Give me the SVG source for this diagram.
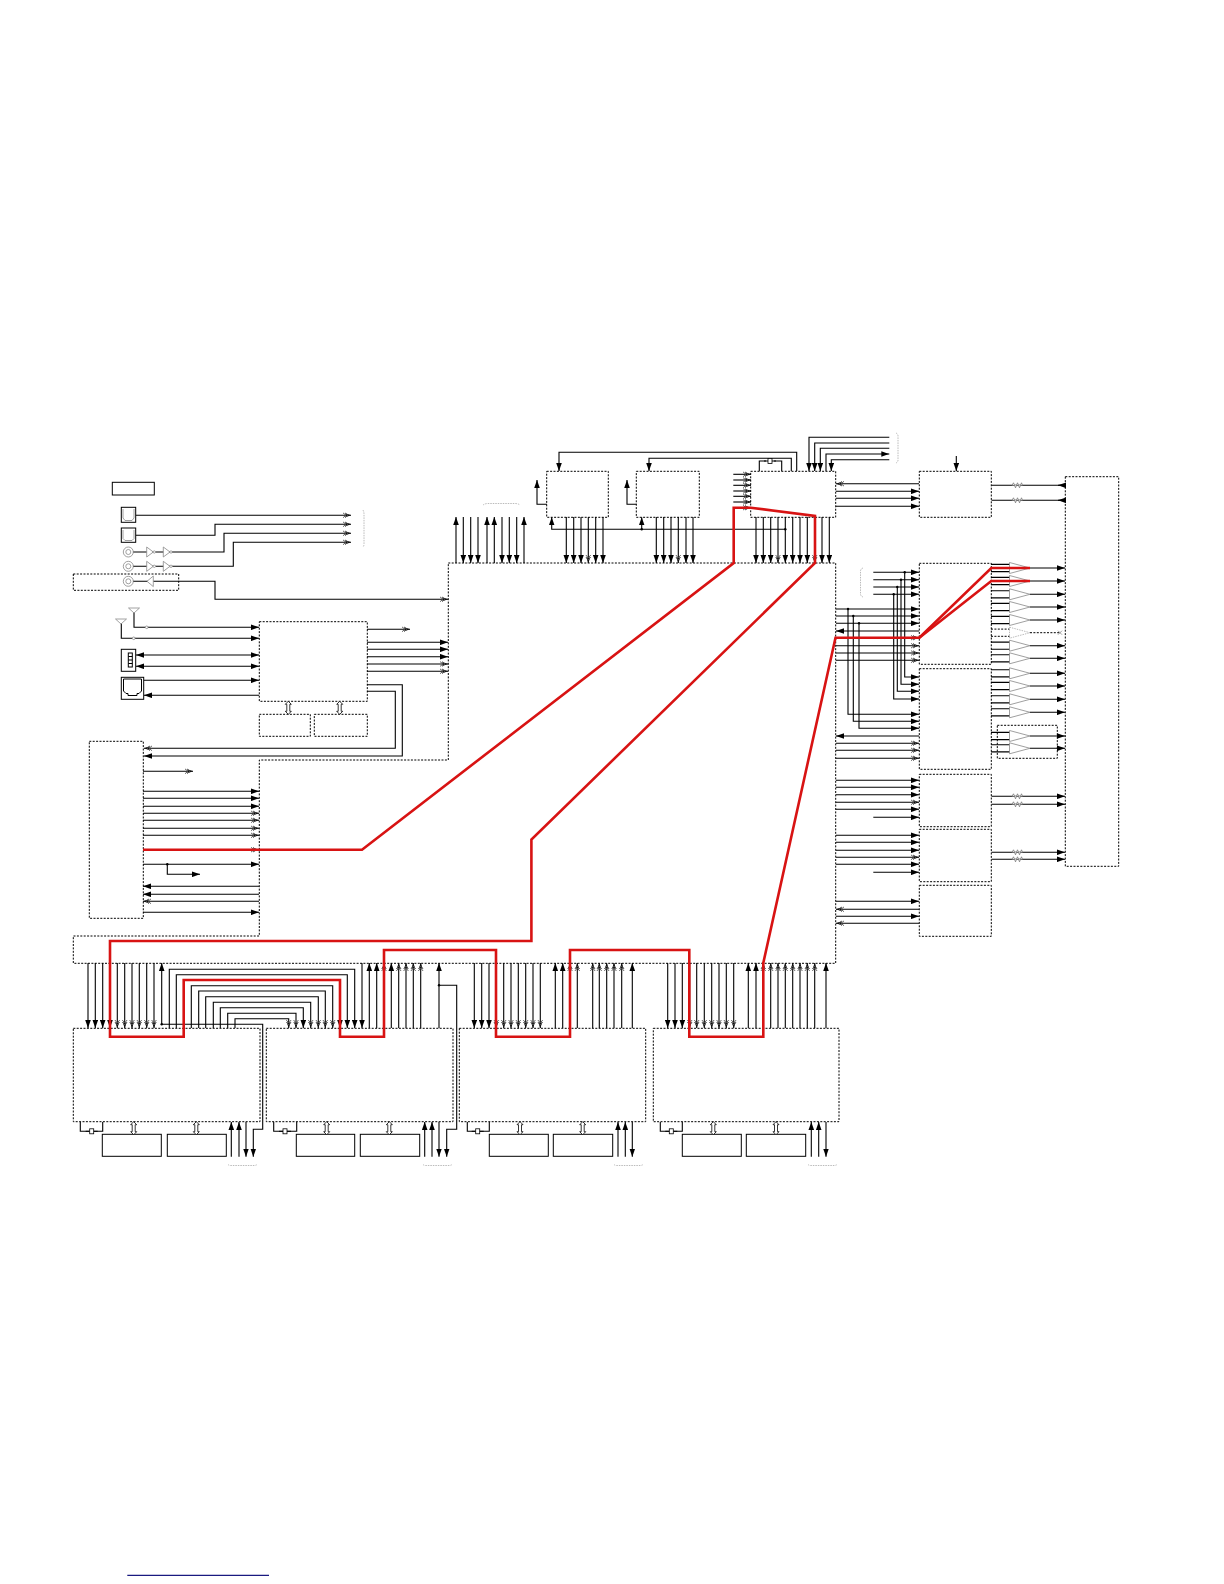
<svg xmlns="http://www.w3.org/2000/svg" width="1224" height="1584" viewBox="0 0 1224 1584">
<style>
.n{stroke:#000;stroke-width:1;stroke-dasharray:2 1.4;fill:#fff}
.s{stroke:#000;stroke-width:1;fill:none}
.g{stroke:#8a8a8a;stroke-width:.8;fill:#fff}
.d{stroke:#aaa;stroke-width:.8;stroke-dasharray:1.5 1;fill:none}
.i{stroke:#888;stroke-width:.8;fill:none}
#conn path{stroke:#000;stroke-width:1.1;fill:none}
#conn path.a{marker-end:url(#a)}
#conn path.x{marker-end:url(#x)}
#conn path.b{marker-start:url(#a);marker-end:url(#a)}
.dot{fill:#000;stroke:none}
.red{stroke:#d81313;stroke-width:2.6;fill:none;stroke-linejoin:miter}
</style>
<defs>
<marker id="a" markerUnits="userSpaceOnUse" viewBox="0 0 8 6" refX="8" refY="3" markerWidth="8" markerHeight="6" orient="auto-start-reverse"><path d="M0,.2L8,3L0,5.8Z" fill="#000" stroke="none"/></marker>
<marker id="x" markerUnits="userSpaceOnUse" viewBox="0 0 8 6" refX="8" refY="3" markerWidth="8" markerHeight="6" orient="auto-start-reverse"><path d="M2.5,1L8,3L2.5,5Z" fill="#111" stroke="none"/><path d="M0,.6L3,3L0,5.4M2,.6L5,3L2,5.4" fill="none" stroke="#555" stroke-width=".9"/></marker>
<g id="amp"><path d="M991,-3.6H1010M991,3.6H1010M1030,0H1065" fill="none" stroke="#000" stroke-width="1.1" marker-end="url(#a)"/><path d="M1009.5,-5.5L1030,0L1009.5,5.5Z" fill="#fff" fill-opacity=".85" stroke="#888" stroke-width=".8"/></g>
<path id="bus" d="M0,0L3,3H1.5V10H3L0,13L-3,10H-1.5V3H-3Z" fill="#fff" stroke="#000" stroke-width=".8"/>
<g id="coax"><circle r="5" fill="none" stroke="#888" stroke-width=".8"/><circle r="2.5" fill="none" stroke="#888" stroke-width=".8"/></g>
<g id="buf"><path d="M146.7,-5L153.3,0L146.7,5Z" fill="#fff" stroke="#888" stroke-width=".8"/><circle cx="154.3" r="1.2" fill="#fff" stroke="#888" stroke-width=".7"/><path d="M163.3,-5L170,0L163.3,5Z" fill="#fff" stroke="#888" stroke-width=".8"/><circle cx="171" r="1.2" fill="#fff" stroke="#888" stroke-width=".7"/></g>
<g id="xtal"><path d="M-6,0H-2M2,0H6" stroke="#000" fill="none"/><rect x="-2" y="-2.5" width="4" height="5" fill="#fff" stroke="#000" stroke-width=".8"/></g>
<path id="res" d="M-5,0L-3.5,-2.5L-1.5,2.5L.5,-2.5L2.5,2.5L4.5,-2.5L5.5,0" fill="#fff" stroke="#777" stroke-width=".8"/>
</defs>

<g id="main"><path class="n" d="M448.3,563H835.7V963.3H73.3V936H259.3V760H448.3Z"/></g>
<g id="label-box"><rect class="s" x="112.3" y="482.3" width="42" height="12.7"/></g>
<g id="sig-conn-1"><rect class="s" x="121.3" y="507.3" width="14.4" height="15"/><path class="i" d="M123,509V518L125,520.5H132L134,518V509"/></g>
<g id="sig-conn-2"><rect class="s" x="121.3" y="528" width="14.4" height="14.3"/><path class="i" d="M123,530V538.5L125,540.5H132L134,538.5V530"/></g>
<g id="out-box"><rect class="n" x="73.3" y="574" width="105.4" height="16.3"/></g>
<g id="usb-conn"><rect class="s" x="121.3" y="649.3" width="14.4" height="22"/><rect class="s" x="128.3" y="653" width="4" height="14"/><path class="s" d="M128.3,656.5H132.3M128.3,660H132.3M128.3,663.5H132.3"/></g>
<g id="rj-conn"><rect class="s" x="121.3" y="677.3" width="22.4" height="22"/><path class="s" d="M123.5,679V691L126,693.5H128V695.5H137V693.5H139L141.5,691V679Z"/></g>
<g id="tuner"><rect class="n" x="259.3" y="621.7" width="108" height="79.6"/></g>
<g id="mem-a1"><rect class="n" x="259.3" y="714.3" width="51" height="22"/></g>
<g id="mem-a2"><rect class="n" x="314.3" y="714.3" width="53" height="22"/></g>
<g id="left-box"><rect class="n" x="89.3" y="741.3" width="54" height="177"/></g>
<g id="top1"><rect class="n" x="546.7" y="471.3" width="61.6" height="46"/></g>
<g id="top2"><rect class="n" x="636.3" y="471.3" width="63" height="46"/></g>
<g id="top3"><rect class="n" x="750.7" y="471.3" width="85" height="46"/></g>
<g id="r-b"><rect class="n" x="919.3" y="471.3" width="72" height="46"/></g>
<g id="r-d"><rect class="n" x="919.3" y="563.3" width="72" height="101"/></g>
<g id="r-e"><rect class="n" x="919.3" y="668.7" width="72" height="100.6"/></g>
<g id="r-f"><rect class="n" x="919.3" y="774.3" width="72" height="52.4"/></g>
<g id="r-g"><rect class="n" x="919.3" y="829.3" width="72" height="52.4"/></g>
<g id="r-h"><rect class="n" x="919.3" y="885.3" width="72" height="51"/></g>
<g id="r-c"><rect class="n" x="1065.3" y="476.7" width="53.4" height="389.6"/></g>
<g id="amp-box"><rect class="n" x="997.3" y="725.3" width="60" height="33"/></g>
<g id="m1"><rect class="n" x="73.3" y="1028.3" width="186.7" height="93.4"/></g>
<g id="m2"><rect class="n" x="266.3" y="1028.3" width="186.7" height="93.4"/></g>
<g id="m3"><rect class="n" x="459.3" y="1028.3" width="186.4" height="93.4"/></g>
<g id="m4"><rect class="n" x="653.3" y="1028.3" width="185.7" height="93.4"/></g>
<g id="mem-m">
<rect class="s" x="102.3" y="1134.3" width="59" height="22"/><rect class="s" x="167.3" y="1134.3" width="59" height="22"/>
<rect class="s" x="296.3" y="1134.3" width="58.4" height="22"/><rect class="s" x="360.3" y="1134.3" width="59.4" height="22"/>
<rect class="s" x="489.3" y="1134.3" width="59" height="22"/><rect class="s" x="553.3" y="1134.3" width="59.4" height="22"/>
<rect class="s" x="682.3" y="1134.3" width="59" height="22"/><rect class="s" x="746.3" y="1134.3" width="59.4" height="22"/>
</g>

<g id="conn">
<path class="x" d="M136,515.3H351"/><path class="x" d="M136,535.3H215V524.3H351"/><path class="x" d="M133,552H224V533.3H351"/><path class="x" d="M133,566.3H233.3V542.3H351"/>
<path class="x" d="M133,581.3H215V599.3H448"/>
<path class="a" d="M134,612V627.3H259"/><path class="a" d="M121.3,623V638.3H259"/>
<path class="b" d="M136,655H259"/><path class="b" d="M136,666.3H259"/>
<path class="a" d="M144,680.3H259"/><path class="a" d="M259,695.3H144"/>
<path class="x" d="M367,629.3H410"/><path class="a" d="M367,642.3H448"/><path class="a" d="M367,649.3H448"/><path class="a" d="M367,656.7H448"/><path class="x" d="M367,664H448"/><path class="x" d="M367,671.3H448"/>
<path class="a" d="M367,684.7H402.3V756H144"/><path class="x" d="M367,691.3H395.3V748.3H144"/>
<path class="x" d="M143,771.3H193"/>
<path class="a" d="M143,791.3H259"/><path class="a" d="M143,798.3H259"/><path class="a" d="M143,806.3H259"/><path class="x" d="M143,813.3H259"/><path class="x" d="M143,820.3H259"/><path class="x" d="M143,828.3H259"/><path class="x" d="M143,835.3H259"/><path class="x" d="M143,849.7H259"/>
<path class="a" d="M143,864.3H259"/><path class="a" d="M167.3,864.3V874.3H200"/>
<path class="a" d="M259,886.3H143"/><path class="a" d="M259,894.3H143"/><path class="x" d="M259,901.3H143"/><path class="a" d="M143,912.3H259"/>
<path class="a" d="M456,563V517"/><path class="a" d="M463.3,517V563"/><path class="a" d="M470.7,517V563"/><path class="a" d="M478,517V563"/><path class="a" d="M487,563V517"/><path class="a" d="M494.3,563V517"/><path class="a" d="M502,517V563"/><path class="a" d="M509.3,517V563"/><path class="a" d="M516.7,517V563"/><path class="a" d="M524,563V517"/>
<path class="a" d="M566.3,517V563"/><path class="a" d="M573.7,517V563"/><path class="a" d="M581,517V563"/><path class="x" d="M588.3,517V563"/><path class="a" d="M595.7,517V563"/><path class="a" d="M603,517V563"/>
<path class="a" d="M656.3,517V563"/><path class="a" d="M663.7,517V563"/><path class="a" d="M671,517V563"/><path class="x" d="M678.3,517V563"/><path class="a" d="M686,517V563"/><path class="a" d="M693,517V563"/>
<path class="a" d="M756,517V563"/><path class="a" d="M763.3,517V563"/><path class="a" d="M770.7,517V563"/><path class="x" d="M778,517V563"/><path class="a" d="M785.3,517V563"/><path class="a" d="M792.7,517V563"/><path class="a" d="M800,517V563"/><path class="a" d="M807.3,517V563"/><path class="x" d="M814.7,517V563"/><path class="a" d="M822,517V563"/><path class="a" d="M829.3,517V563"/>
<path class="a" d="M785.3,529.3H551.7V517.3"/><path class="a" d="M641.7,529.3V517.3"/>
<path class="a" d="M796.7,471V452.3H559V471"/><path class="a" d="M791.3,471V458.3H649V471"/>
<path d="M759.3,471V461H766M774,461H781.7V471"/>
<path class="a" d="M547,504.3H537V480"/><path class="a" d="M636.5,504.3H627V480"/>
<path class="x" d="M733.3,474.3H751"/><path class="x" d="M733.3,480H751"/><path class="x" d="M733.3,485.3H751"/><path class="x" d="M733.3,491H751"/><path class="x" d="M733.3,496.3H751"/><path class="x" d="M733.3,502H751"/><path class="x" d="M733.3,507.7H751"/>
<path class="a" d="M889.3,437.3H809V471"/><path class="a" d="M889.3,443H814.7V471"/><path class="a" d="M889.3,448.3H820.3V471"/><path class="a" d="M826,471V454H889.3"/><path class="a" d="M889.3,459.7H831.3V471"/>
<path class="a" d="M956.3,456V471"/><path class="x" d="M919,483.7H836"/><path class="a" d="M836,491.3H919"/><path class="a" d="M836,498.3H919"/><path class="a" d="M836,506.3H919"/>
<path d="M991.5,485.3H1065"/><path d="M991.5,500.3H1065"/><path class="a" d="M1065,485.3H1058"/><path class="a" d="M1065,500.3H1058"/>
<path class="a" d="M873.3,572.3H919"/><path class="a" d="M873.3,579.7H919"/><path class="a" d="M873.3,587H919"/><path class="a" d="M873.3,594.3H919"/>
<path class="a" d="M904.7,572.3V677H919"/><path class="a" d="M901,579.7V684.3H919"/><path class="a" d="M897.3,587V691.3H919"/><path class="a" d="M893.7,594.3V699H919"/>
<path class="a" d="M836,609H919"/><path class="a" d="M836,616H919"/><path class="a" d="M836,623.3H919"/>
<path class="a" d="M848,609V714.3H919"/><path class="a" d="M853.3,616V721.3H919"/><path class="a" d="M859,623.3V728.3H919"/>
<path class="a" d="M919,631H836"/><path class="x" d="M836,637.7H919"/><path class="x" d="M836,645.7H919"/><path class="x" d="M836,653H919"/><path class="x" d="M836,660.3H919"/>
<path class="a" d="M919,736H836"/><path class="x" d="M836,743.3H919"/><path class="x" d="M836,750.3H919"/><path class="x" d="M836,758.3H919"/>
<path class="a" d="M836,780.3H919"/><path class="a" d="M836,787.3H919"/><path class="a" d="M836,794.7H919"/><path class="x" d="M836,802.3H919"/><path class="a" d="M836,809.3H919"/><path class="a" d="M873.3,817.3H919"/>
<path class="a" d="M836,835.3H919"/><path class="a" d="M836,842.3H919"/><path class="a" d="M836,850.3H919"/><path class="x" d="M836,857.3H919"/><path class="a" d="M836,864.3H919"/><path class="a" d="M873.3,872.3H919"/>
<path class="a" d="M836,901.3H919"/><path class="x" d="M919,909.3H836"/><path class="a" d="M836,916.3H919"/><path class="x" d="M919,923.3H836"/>
<path class="a" d="M991.5,796.3H1065"/><path class="a" d="M991.5,804.3H1065"/><path class="a" d="M991.5,852.3H1065"/><path class="a" d="M991.5,859.3H1065"/>
<path class="a" d="M88,963V1028"/><path class="a" d="M95.3,963V1028"/><path class="a" d="M102.7,963V1028"/><path class="a" d="M110,963V1028"/><path class="x" d="M117.3,963V1028"/><path class="x" d="M124.7,963V1028"/><path class="x" d="M132,963V1028"/><path class="x" d="M139.3,963V1028"/><path class="x" d="M146.7,963V1028"/><path class="x" d="M154,963V1028"/>
<path class="a" d="M161.7,1024.3V963"/><path class="a" d="M161.7,1024.3H262.7V1129.3H253.3V1156.7"/>
<path class="a" d="M169.3,1028V969.3H354.7V1028"/><path class="a" d="M176.3,1028V974.7H347.3V1028"/><path class="a" d="M183.7,1028V980H340V1028"/><path class="x" d="M191.3,1028V985.7H332.7V1028"/><path class="x" d="M198.7,1028V991H325.3V1028"/><path class="x" d="M205.7,1028V996.7H318.3V1028"/><path class="x" d="M213.3,1028V1002.3H310.7V1028"/><path class="a" d="M220.3,1028V1007.7H303.3V1028"/><path class="x" d="M227.7,1028V1013.3H296V1028"/><path class="x" d="M235,1028V1018.7H288.7V1028"/>
<path class="a" d="M362,963V1028"/>
<path class="a" d="M369.3,1028V963"/><path class="a" d="M376.7,1028V963"/><path class="x" d="M384,1028V963"/><path class="a" d="M391.3,1028V963"/><path class="x" d="M398.7,1028V963"/><path class="x" d="M406,1028V963"/><path class="x" d="M413.3,1028V963"/><path class="x" d="M420.7,1028V963"/><path class="a" d="M439,1028V963"/>
<path class="a" d="M439,985.3H456.7V1129.3H446.7V1156.7"/>
<path class="a" d="M474.3,963V1028"/><path class="a" d="M481.7,963V1028"/><path class="a" d="M489,963V1028"/><path class="x" d="M496.3,963V1028"/><path class="x" d="M503.7,963V1028"/><path class="x" d="M511,963V1028"/><path class="x" d="M518.3,963V1028"/><path class="x" d="M525.7,963V1028"/><path class="x" d="M533,963V1028"/><path class="x" d="M540.3,963V1028"/>
<path class="a" d="M555.3,1028V963"/><path class="a" d="M562.7,1028V963"/><path class="x" d="M570,1028V963"/><path class="x" d="M577.3,1028V963"/><path class="x" d="M592.7,1028V963"/><path class="x" d="M599.3,1028V963"/><path class="x" d="M606.7,1028V963"/><path class="x" d="M614,1028V963"/><path class="x" d="M621.7,1028V963"/><path class="a" d="M632.3,1028V963"/>
<path class="a" d="M667.7,963V1028"/><path class="a" d="M675,963V1028"/><path class="a" d="M682.3,963V1028"/><path class="x" d="M689.7,963V1028"/><path class="x" d="M696.7,963V1028"/><path class="x" d="M704.3,963V1028"/><path class="x" d="M711.7,963V1028"/><path class="x" d="M719,963V1028"/><path class="x" d="M726.3,963V1028"/><path class="x" d="M733.7,963V1028"/>
<path class="a" d="M748.3,1028V963"/><path class="a" d="M756,1028V963"/><path class="x" d="M763.3,1028V963"/><path class="x" d="M770.7,1028V963"/><path class="x" d="M778,1028V963"/><path class="x" d="M785.3,1028V963"/><path class="x" d="M792.7,1028V963"/><path class="x" d="M800,1028V963"/><path class="x" d="M807.3,1028V963"/><path class="x" d="M814.7,1028V963"/><path class="a" d="M826,1028V963"/>
<path d="M80.3,1122V1131.3H102.7V1122"/><path d="M273.7,1122V1131.3H296.7V1122"/><path d="M467.3,1122V1131.3H489.3V1122"/><path d="M660.3,1122V1131.3H682.3V1122"/>
<path class="a" d="M231.3,1156.7V1122"/><path class="a" d="M239,1156.7V1122"/><path class="a" d="M246,1122V1156.7"/>
<path class="a" d="M424.7,1156.7V1122"/><path class="a" d="M432,1156.7V1122"/><path class="a" d="M439,1122V1156.7"/>
<path class="a" d="M618,1156.7V1122"/><path class="a" d="M625.3,1156.7V1122"/><path class="a" d="M632.3,1122V1156.7"/>
<path class="a" d="M811.3,1156.7V1122"/><path class="a" d="M818.7,1156.7V1122"/><path class="a" d="M826,1122V1156.7"/>
</g>

<g id="icons">
<use href="#coax" x="128.3" y="552"/><use href="#coax" x="128.3" y="566.3"/><use href="#coax" x="128.3" y="581.3"/>
<use href="#buf" y="552"/><use href="#buf" y="566.3"/>
<path class="g" d="M153.3,576L147,581.3L153.3,586.6Z"/>
<path class="g" d="M128.5,608H139.5L134,613Z"/><path class="g" d="M115.5,619H126.5L121,624Z"/>
<circle class="g" cx="146.7" cy="627.3" r="1.3"/><circle class="g" cx="133.7" cy="638.3" r="1.3"/>
<use href="#bus" x="288.3" y="701.3"/><use href="#bus" x="339.7" y="701.3"/>
<use href="#bus" x="133.7" y="1121.7"/><use href="#bus" x="196.3" y="1121.7"/><use href="#bus" x="326.7" y="1121.7"/><use href="#bus" x="389.3" y="1121.7"/><use href="#bus" x="520" y="1121.7"/><use href="#bus" x="582.7" y="1121.7"/><use href="#bus" x="713.3" y="1121.7"/><use href="#bus" x="776" y="1121.7"/>
<use href="#xtal" x="91.7" y="1131.3"/><use href="#xtal" x="285" y="1131.3"/><use href="#xtal" x="477.7" y="1131.3"/><use href="#xtal" x="671.3" y="1131.3"/>
<use href="#xtal" x="770" y="461"/>
<use href="#res" x="1017" y="485.3"/><use href="#res" x="1017" y="500.3"/><use href="#res" x="1017" y="796.3"/><use href="#res" x="1017" y="804.3"/><use href="#res" x="1017" y="852.3"/><use href="#res" x="1017" y="859.3"/>
<use href="#amp" y="568"/><use href="#amp" y="581"/><use href="#amp" y="594.3"/><use href="#amp" y="607"/><use href="#amp" y="620"/>
<g transform="translate(0,632.7)"><path d="M991,-3.6H1010M991,3.6H1010M1030,0H1060" fill="none" stroke="#000" stroke-dasharray="2 1.4"/><path d="M1009.5,-5.5L1030,0L1009.5,5.5Z" fill="#fff" stroke="#aaa" stroke-width=".8" stroke-dasharray="1.5 1"/><path d="M1058,-2L1062,2M1058,2L1062,-2" stroke="#888" stroke-width=".8" fill="none"/></g>
<use href="#amp" y="645.7"/><use href="#amp" y="658.3"/><use href="#amp" y="673.3"/><use href="#amp" y="686"/><use href="#amp" y="699.3"/><use href="#amp" y="712.3"/><use href="#amp" y="736"/><use href="#amp" y="748.3"/>
<path class="d" d="M363,510Q364,512 364,514V544Q364,546 363,547"/>
<path class="d" d="M483,505Q485,503.5 488,503.5H515Q518,503.5 520,505"/>
<path class="d" d="M896,433Q898,434 898,436V460Q898,462 896,463"/>
<path class="d" d="M863,568Q860.5,569 860.5,571V594Q860.5,596 863,597"/>
<path class="d" d="M228,1164.5Q229,1165.5 231,1165.5H254Q256,1165.5 257,1164.5"/>
<path class="d" d="M423,1164.5Q424,1165.5 426,1165.5H449Q451,1165.5 452,1164.5"/>
<path class="d" d="M614,1164.5Q615,1165.5 617,1165.5H640Q642,1165.5 643,1164.5"/>
<path class="d" d="M808,1164.5Q809,1165.5 811,1165.5H834Q836,1165.5 837,1164.5"/>
<circle class="dot" cx="785.3" cy="529.3" r="1.2"/><circle class="dot" cx="641.7" cy="529.3" r="1.2"/>
<circle class="dot" cx="904.7" cy="572.3" r="1.2"/><circle class="dot" cx="901" cy="579.7" r="1.2"/><circle class="dot" cx="897.3" cy="587" r="1.2"/><circle class="dot" cx="893.7" cy="594.3" r="1.2"/>
<circle class="dot" cx="848" cy="609" r="1.2"/><circle class="dot" cx="853.3" cy="616" r="1.2"/><circle class="dot" cx="859" cy="623.3" r="1.2"/>
<circle class="dot" cx="167.3" cy="864.3" r="1.2"/><circle class="dot" cx="161.7" cy="1024.3" r="1.2"/><circle class="dot" cx="439" cy="985.3" r="1.2"/>
</g>

<g id="signal-path">
<path class="red" d="M143,849.7H362L733.7,563V507.7H750.7L815,516V563L531.4,839.5V941H110V1036.7H183.7V980H340V1036.7H384V950H496V1036.7H570V950H689.3V1036.7H763.3V963L835.5,637.7H919.3L991.3,568H1030"/>
<path class="red" d="M919.3,637.7L991.3,581H1030"/>
</g>
<path id="rule" d="M127.3,1575.3H269" stroke="#1a1a80" stroke-width="1.3" fill="none"/>
</svg>
